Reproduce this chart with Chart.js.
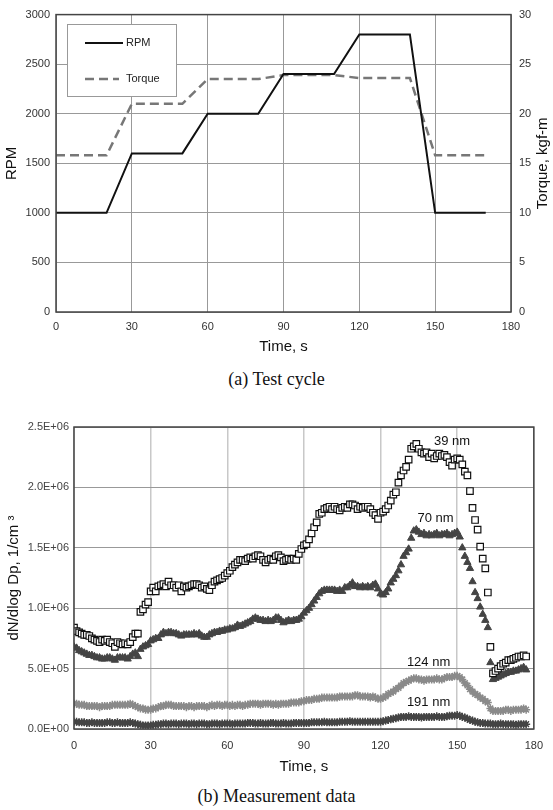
<!DOCTYPE html>
<html lang="en">

<head>
  <meta charset="UTF-8">
  <title>Test cycle and measurement data</title>
  <script src="https://cdn.jsdelivr.net/npm/chart.js"></script>
  <style>
    body {
      margin: 0;
      background: #fff;
      width: 553px;
      height: 810px;
      position: relative;
      overflow: hidden;
    }
    canvas {
      position: absolute;
      left: 0;
    }
    .caption {
      position: absolute;
      left: 0;
      width: 553px;
      text-align: center;
      font-family: 'Liberation Serif', 'Times New Roman', serif;
      font-size: 18px;
      color: #111;
    }
  </style>
</head>

<body>
  <canvas id="cycleChart" width="553" height="360" style="top:0"></canvas>
  <div class="caption" style="top:369px">(a) Test cycle</div>
  <canvas id="pnChart" width="553" height="380" style="top:400px"></canvas>
  <div class="caption" style="top:786px">(b) Measurement data</div>

  <script>
    // (a) test cycle, time in s
    const cycleTime = [0, 20, 30, 50, 60, 80, 90, 110, 120, 140, 150, 170];
    const rpm = [1000, 1000, 1600, 1600, 2000, 2000, 2400, 2400, 2800, 2800, 1000, 1000];
    const torque = [15.8, 15.8, 21, 21, 23.5, 23.5, 23.9, 23.9, 23.6, 23.6, 15.8, 15.8]; // kgf-m

    // (b) number concentration, one sample per second from t = 0, in units of 1E+06 /cm3
    const nm39 = [
      0.84, 0.81, 0.80, 0.79, 0.78, 0.78, 0.77, 0.75, 0.74, 0.73,
      0.72, 0.74, 0.73, 0.74, 0.72, 0.71, 0.68, 0.72, 0.71, 0.70,
      0.71, 0.70, 0.72, 0.76, 0.79, 0.79, 0.97, 0.99, 1.03, 1.05,
      1.14, 1.17, 1.14, 1.18, 1.19, 1.20, 1.18, 1.22, 1.19, 1.19,
      1.17, 1.19, 1.14, 1.18, 1.17, 1.18, 1.19, 1.20, 1.20, 1.19,
      1.17, 1.18, 1.16, 1.15, 1.19, 1.22, 1.23, 1.24, 1.25, 1.27,
      1.29, 1.31, 1.34, 1.36, 1.38, 1.40, 1.40, 1.39, 1.41, 1.42,
      1.41, 1.43, 1.44, 1.43, 1.40, 1.38, 1.40, 1.41, 1.40, 1.43,
      1.44, 1.42, 1.39, 1.40, 1.41, 1.40, 1.41, 1.40, 1.45, 1.49,
      1.52, 1.53, 1.57, 1.62, 1.67, 1.71, 1.78, 1.79, 1.82, 1.83,
      1.84, 1.82, 1.84, 1.82, 1.81, 1.83, 1.84, 1.83, 1.86, 1.86,
      1.85, 1.82, 1.84, 1.83, 1.84, 1.84, 1.82, 1.79, 1.77, 1.74,
      1.79, 1.80, 1.82, 1.85, 1.89, 1.94, 1.96, 2.04, 2.10, 2.14,
      2.17, 2.23, 2.32, 2.34, 2.36, 2.32, 2.29, 2.28, 2.29, 2.25,
      2.28, 2.24, 2.26, 2.28, 2.26, 2.27, 2.25, 2.21, 2.18, 2.23,
      2.24, 2.23, 2.19, 2.13, 2.10, 1.97, 1.83, 1.73, 1.65, 1.51,
      1.41, 1.33, 1.13, 0.68, 0.46, 0.48, 0.50, 0.52, 0.54, 0.55,
      0.57, 0.57, 0.58, 0.59, 0.60, 0.60, 0.61, 0.60
    ];
    const nm70 = [
      0.68, 0.67, 0.65, 0.64, 0.63, 0.62, 0.61, 0.61, 0.60, 0.59,
      0.59, 0.58, 0.58, 0.59, 0.59, 0.58, 0.57, 0.59, 0.59, 0.59,
      0.59, 0.58, 0.60, 0.62, 0.63, 0.60, 0.66, 0.68, 0.69, 0.70,
      0.73, 0.74, 0.75, 0.75, 0.78, 0.80, 0.79, 0.80, 0.80, 0.79,
      0.79, 0.78, 0.77, 0.78, 0.78, 0.78, 0.78, 0.79, 0.78, 0.79,
      0.77, 0.76, 0.76, 0.78, 0.79, 0.80, 0.80, 0.81, 0.81, 0.82,
      0.82, 0.83, 0.83, 0.84, 0.86, 0.85, 0.86, 0.87, 0.88, 0.89,
      0.91, 0.92, 0.91, 0.90, 0.90, 0.89, 0.90, 0.89, 0.90, 0.92,
      0.92, 0.90, 0.88, 0.89, 0.90, 0.89, 0.90, 0.90, 0.91, 0.93,
      0.96, 0.98, 1.00, 1.03, 1.06, 1.09, 1.12, 1.14, 1.15, 1.15,
      1.15, 1.15, 1.15, 1.14, 1.15, 1.14, 1.17, 1.17, 1.19, 1.21,
      1.18, 1.18, 1.17, 1.18, 1.17, 1.18, 1.17, 1.19, 1.20, 1.16,
      1.12, 1.11, 1.13, 1.16, 1.21, 1.24, 1.27, 1.31, 1.36, 1.43,
      1.46, 1.49, 1.58, 1.64, 1.65, 1.63, 1.61, 1.62, 1.60, 1.61,
      1.60, 1.61, 1.62, 1.60, 1.61, 1.61, 1.62, 1.60, 1.61, 1.62,
      1.63, 1.59, 1.50, 1.43, 1.38, 1.33, 1.22, 1.13, 1.08, 1.01,
      0.95, 0.90, 0.84, 0.55, 0.41, 0.42, 0.43, 0.44, 0.45, 0.46,
      0.47, 0.47, 0.48, 0.48, 0.49, 0.50, 0.51, 0.49
    ];
    const nm124 = [
      0.21, 0.21, 0.20, 0.20, 0.20, 0.19, 0.19, 0.19, 0.19, 0.19,
      0.18, 0.19, 0.19, 0.19, 0.19, 0.20, 0.20, 0.20, 0.20, 0.20,
      0.20, 0.20, 0.21, 0.20, 0.19, 0.18, 0.17, 0.17, 0.16, 0.16,
      0.16, 0.17, 0.17, 0.18, 0.19, 0.19, 0.20, 0.20, 0.20, 0.19,
      0.19, 0.19, 0.19, 0.19, 0.18, 0.19, 0.19, 0.18, 0.19, 0.19,
      0.19, 0.19, 0.18, 0.19, 0.20, 0.19, 0.20, 0.20, 0.19, 0.20,
      0.20, 0.19, 0.20, 0.19, 0.20, 0.20, 0.19, 0.20, 0.20, 0.21,
      0.21, 0.21, 0.21, 0.20, 0.21, 0.21, 0.21, 0.21, 0.20, 0.21,
      0.20, 0.21, 0.21, 0.21, 0.21, 0.22, 0.22, 0.22, 0.22, 0.23,
      0.23, 0.24, 0.24, 0.24, 0.25, 0.25, 0.25, 0.26, 0.26, 0.26,
      0.26, 0.26, 0.26, 0.26, 0.27, 0.27, 0.27, 0.27, 0.27, 0.27,
      0.28, 0.28, 0.27, 0.27, 0.27, 0.27, 0.26, 0.27, 0.26, 0.25,
      0.25, 0.26, 0.27, 0.29, 0.30, 0.31, 0.33, 0.34, 0.36, 0.38,
      0.39, 0.40, 0.41, 0.42, 0.42, 0.41, 0.41, 0.40, 0.41, 0.41,
      0.41, 0.41, 0.42, 0.41, 0.41, 0.42, 0.43, 0.43, 0.43, 0.44,
      0.44, 0.43, 0.41, 0.38, 0.36, 0.33, 0.31, 0.29, 0.28, 0.26,
      0.25, 0.23, 0.22, 0.17, 0.15, 0.15, 0.15, 0.15, 0.15, 0.16,
      0.16, 0.15, 0.16, 0.16, 0.16, 0.16, 0.17, 0.16
    ];
    const nm191 = [
      0.060, 0.060, 0.055, 0.055, 0.055, 0.050, 0.050, 0.055, 0.050, 0.050,
      0.050, 0.050, 0.050, 0.055, 0.055, 0.050, 0.050, 0.055, 0.050, 0.050,
      0.050, 0.050, 0.055, 0.050, 0.045, 0.040, 0.035, 0.030, 0.030, 0.030,
      0.030, 0.035, 0.035, 0.040, 0.040, 0.045, 0.045, 0.040, 0.045, 0.045,
      0.045, 0.040, 0.045, 0.045, 0.045, 0.040, 0.045, 0.045, 0.040, 0.045,
      0.045, 0.045, 0.040, 0.040, 0.045, 0.045, 0.045, 0.040, 0.045, 0.045,
      0.045, 0.045, 0.040, 0.045, 0.045, 0.045, 0.045, 0.045, 0.050, 0.050,
      0.050, 0.045, 0.045, 0.050, 0.045, 0.045, 0.045, 0.050, 0.050, 0.045,
      0.045, 0.045, 0.050, 0.045, 0.045, 0.045, 0.050, 0.050, 0.050, 0.050,
      0.050, 0.050, 0.050, 0.055, 0.055, 0.055, 0.055, 0.055, 0.060, 0.055,
      0.055, 0.055, 0.055, 0.055, 0.060, 0.060, 0.060, 0.060, 0.065, 0.060,
      0.060, 0.060, 0.060, 0.060, 0.060, 0.060, 0.060, 0.060, 0.060, 0.060,
      0.060, 0.065, 0.070, 0.075, 0.080, 0.085, 0.090, 0.095, 0.100, 0.100,
      0.100, 0.105, 0.100, 0.100, 0.100, 0.100, 0.095, 0.100, 0.100, 0.100,
      0.100, 0.100, 0.105, 0.100, 0.100, 0.100, 0.105, 0.110, 0.110, 0.110,
      0.115, 0.110, 0.100, 0.095, 0.085, 0.075, 0.070, 0.060, 0.055, 0.050,
      0.050, 0.045, 0.045, 0.045, 0.040, 0.040, 0.040, 0.045, 0.040, 0.040,
      0.040, 0.040, 0.040, 0.035, 0.040, 0.040, 0.040, 0.040
    ];
    const sizeLabels = ['39 nm', '70 nm', '124 nm', '191 nm'];
    const timeTicks = [0, 30, 60, 90, 120, 150, 180];

    const SANS = "'Liberation Sans', Arial, sans-serif";
    Chart.defaults.font.family = SANS;
    Chart.defaults.animation = false;

    const toPoints = (xs, ys, k = 1) => ys.map((v, i) => ({ x: xs[i], y: v * k }));

    // two-digit exponent like the spreadsheet axis
    const sci = (v) => {
      if (v === 0) return '0.0E+00';
      const e = Math.floor(Math.log10(v) + 1e-9);
      return (v / Math.pow(10, e)).toFixed(1) + 'E+' + String(e).padStart(2, '0');
    };

    const frame = {
      id: 'frame',
      afterDatasetsDraw(chart, args, opts) {
        const { ctx, chartArea: a } = chart;
        ctx.save();
        ctx.strokeStyle = opts.color;
        ctx.lineWidth = opts.width;
        ctx.strokeRect(a.left, a.top, a.right - a.left, a.bottom - a.top);
        ctx.restore();
      }
    };

    // boxed legend inside the plot area of (a)
    const boxLegend = {
      id: 'boxLegend',
      beforeDatasetsDraw(chart) {
        const { ctx } = chart;
        ctx.save();
        ctx.fillStyle = '#fff';
        ctx.strokeStyle = '#999';
        ctx.lineWidth = 1;
        ctx.fillRect(67, 24, 109, 72);
        ctx.strokeRect(67.5, 24.5, 109, 72);
        ctx.font = '11px ' + SANS;
        ctx.textBaseline = 'middle';
        chart.data.datasets.forEach((ds, i) => {
          const y = 43 + i * 36;
          ctx.strokeStyle = ds.borderColor;
          ctx.lineWidth = ds.borderWidth;
          ctx.setLineDash(ds.borderDash || []);
          ctx.beginPath();
          ctx.moveTo(85, y);
          ctx.lineTo(i ? 119 : 123, y);
          ctx.stroke();
          ctx.fillStyle = '#222';
          ctx.fillText(ds.label, 126, y);
        });
        ctx.restore();
      }
    };

    // right axis title reads bottom-to-top like the left one
    const rightTitle = {
      id: 'rightTitle',
      afterDraw(chart) {
        const { ctx, chartArea: a } = chart;
        ctx.save();
        ctx.translate(543, (a.top + a.bottom) / 2);
        ctx.rotate(-Math.PI / 2);
        ctx.font = '15px ' + SANS;
        ctx.fillStyle = '#111';
        ctx.textAlign = 'center';
        ctx.textBaseline = 'middle';
        ctx.fillText('Torque, kgf-m', 0, 0);
        ctx.restore();
      }
    };

    new Chart(document.getElementById('cycleChart'), {
      type: 'scatter',
      data: {
        datasets: [
          {
            label: 'RPM', data: toPoints(cycleTime, rpm), yAxisID: 'y',
            showLine: true, borderColor: '#111', borderWidth: 2, pointRadius: 0
          },
          {
            label: 'Torque', data: toPoints(cycleTime, torque), yAxisID: 'y1',
            showLine: true, borderColor: '#777', borderWidth: 2.5, borderDash: [9, 5], pointRadius: 0
          }
        ]
      },
      options: {
        responsive: false,
        layout: { padding: { top: 10 } },
        plugins: { legend: { display: false }, tooltip: { enabled: false }, frame: { color: '#444', width: 1.5 } },
        scales: {
          x: {
            type: 'linear', min: 0, max: 180,
            afterBuildTicks: (s) => { s.ticks = timeTicks.map(v => ({ value: v })); },
            afterFit: (s) => { s.height = 48; },
            grid: { color: '#999', drawTicks: false },
            border: { display: false },
            ticks: { color: '#333', font: { size: 11 }, padding: 8 },
            title: { display: true, text: 'Time, s', color: '#111', font: { size: 15 }, padding: { bottom: 4 } }
          },
          y: {
            min: 0, max: 3000,
            ticks: { stepSize: 500, color: '#333', font: { size: 11 }, padding: 6, callback: (v) => String(v) },
            afterFit: (s) => { s.width = 56; },
            grid: { color: '#999', drawTicks: false },
            border: { display: false },
            title: { display: true, text: 'RPM', color: '#111', font: { size: 15 }, padding: { top: 3 } }
          },
          y1: {
            position: 'right', min: 0, max: 30,
            ticks: { stepSize: 5, color: '#333', font: { size: 11 }, padding: 8 },
            afterFit: (s) => { s.width = 42; },
            grid: { drawOnChartArea: false, drawTicks: false },
            border: { display: false }
          }
        }
      },
      plugins: [boxLegend, frame, rightTitle]
    });

    const times = nm39.map((_, i) => i);
    const E6 = 1e6;

    // size labels next to their series, in data coordinates
    const sizeNotes = {
      id: 'sizeNotes',
      afterDatasetsDraw(chart) {
        const { ctx, scales: { x, y } } = chart;
        const at = [[148, 2.38], [141.5, 1.74], [138.8, 0.55], [138.8, 0.22]];
        ctx.save();
        ctx.font = '13px ' + SANS;
        ctx.fillStyle = '#111';
        ctx.textAlign = 'center';
        ctx.textBaseline = 'middle';
        sizeLabels.forEach((t, i) => {
          ctx.fillText(t, x.getPixelForValue(at[i][0]), y.getPixelForValue(at[i][1] * E6));
        });
        ctx.restore();
      }
    };

    new Chart(document.getElementById('pnChart'), {
      type: 'scatter',
      data: {
        datasets: [
          {
            label: sizeLabels[0], data: toPoints(times, nm39, E6),
            pointStyle: 'rect', pointRadius: 4.6, backgroundColor: '#fff', borderColor: '#111', borderWidth: 1.2
          },
          {
            label: sizeLabels[1], data: toPoints(times, nm70, E6),
            pointStyle: 'triangle', pointRadius: 4.2, backgroundColor: '#444', borderColor: '#444', borderWidth: 1
          },
          {
            label: sizeLabels[2], data: toPoints(times, nm124, E6),
            pointStyle: 'star', pointRadius: 4, borderColor: '#8a8a8a', borderWidth: 1.5
          },
          {
            label: sizeLabels[3], data: toPoints(times, nm191, E6),
            pointStyle: 'star', pointRadius: 4, borderColor: '#444', borderWidth: 1.5
          }
        ]
      },
      options: {
        responsive: false,
        layout: { padding: { top: 27, right: 15 } },
        plugins: { legend: { display: false }, tooltip: { enabled: false }, frame: { color: '#444', width: 1.5 } },
        scales: {
          x: {
            type: 'linear', min: 0, max: 180,
            afterBuildTicks: (s) => { s.ticks = timeTicks.map(v => ({ value: v })); },
            afterFit: (s) => { s.height = 51; },
            grid: { color: '#c8c8c8', lineWidth: 1.5, drawTicks: false },
            border: { display: false },
            ticks: { color: '#333', font: { size: 11 }, padding: 10 },
            title: { display: true, text: 'Time, s', color: '#111', font: { size: 15 }, padding: { bottom: 4 } }
          },
          y: {
            min: 0, max: 2.5e6,
            ticks: { stepSize: 5e5, color: '#444', font: { size: 11 }, padding: 5, callback: sci },
            afterFit: (s) => { s.width = 74; },
            grid: { color: '#999', drawTicks: false },
            border: { display: false },
            title: { display: true, text: 'dN/dlog Dp, 1/cm ³', color: '#111', font: { size: 15 }, padding: { top: 5 } }
          }
        }
      },
      plugins: [frame, sizeNotes]
    });
  </script>
</body>

</html>
